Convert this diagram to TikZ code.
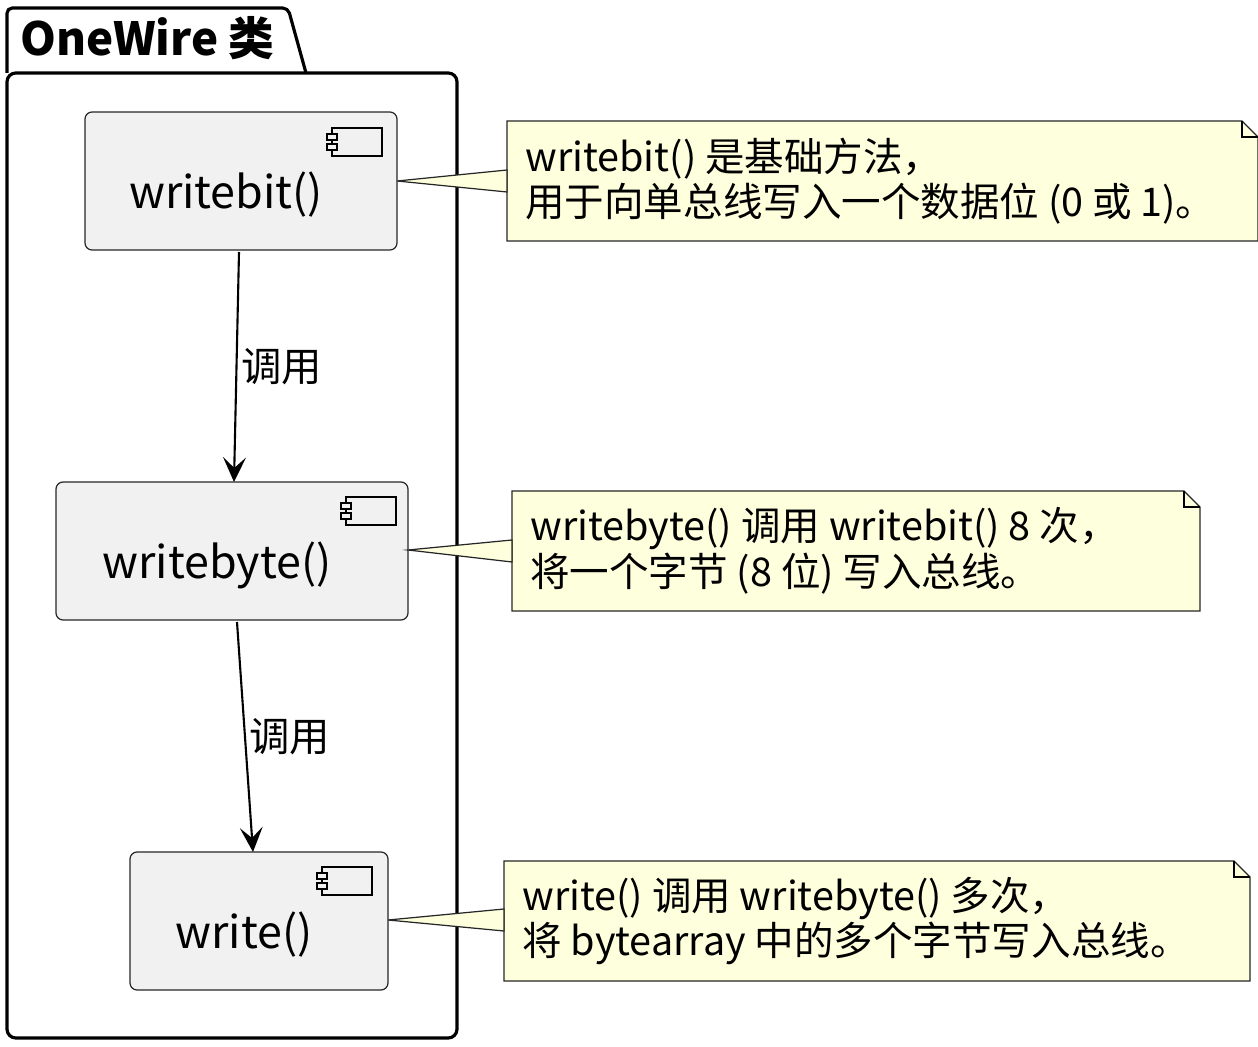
\documentclass[tikz,border=0pt]{standalone}
\usepackage{fontspec}
\setmainfont{Noto Sans CJK SC}
\usetikzlibrary{arrows.meta,calc}
\definecolor{compfill}{HTML}{F1F1F1}
\definecolor{notefill}{HTML}{FEFFDD}
\tikzset{
  comp/.style={draw=black!85,fill=compfill,rounded corners=4pt,line width=0.7pt},
  note/.style={draw=black!85,fill=notefill,line width=0.7pt},
  call/.style={line width=1.2pt,-{Stealth[length=14pt,width=13pt,inset=6pt]}},
  lbl/.style={font=\fontsize{23}{27}\selectfont,inner sep=0pt},
  ntext/.style={font=\fontsize{22.5}{26}\selectfont,align=left,anchor=west,inner sep=0pt}
}
% component box with icon: corners, name, label text
\newcommand\compbox[4]{%
  \path[comp] #1 rectangle #2;
  \node[lbl,font=\fontsize{25.5}{30}\selectfont] (#3) at ($#1!0.5!#2+(-15,14)$) {#4};
}
\newcommand\compicon[1]{%
  \draw[line width=0.6pt,fill=compfill] #1 rectangle ++(50,28);
  \draw[line width=0.6pt,fill=compfill] ($#1+(-5,6)$) rectangle ++(10,6);
  \draw[line width=0.6pt,fill=compfill] ($#1+(-5,16)$) rectangle ++(10,6);
}
% note with folded corner: x1,y1,x2,y2
\newcommand\notebox[4]{%
  \path[note] (#1,#2) -- (#3-16,#2) -- (#3,#2+16) -- (#3,#4) -- (#1,#4) -- cycle;
  \draw[line width=0.7pt] (#3-16,#2) -- (#3-16,#2+16) -- (#3,#2+16);
}
\begin{document}
\begin{tikzpicture}[x=0.02cm,y=-0.02cm]
\useasboundingbox (0,0) rectangle (1258,1047);
% package
\draw[line width=1.8pt,rounded corners=3pt] (7,73) -- (7,8) -- (288,8) -- (306,73);
\draw[line width=1.8pt,rounded corners=5pt] (7,73) rectangle (457,1038);
\node[anchor=west,inner sep=0pt,font=\fontsize{26}{30}\selectfont\bfseries] (pkg) at (20,38) {OneWire 类};
% components
\compbox{(85,112)}{(397,250)}{wbit}{writebit()}
\compicon{(332,128)}
\compbox{(56,482)}{(408,620)}{wbyte}{writebyte()}
\compicon{(346,497)}
\compbox{(130,852)}{(388,990)}{wr}{write()}
\compicon{(322,867)}
\coordinate (wbitB) at (239,252);
\coordinate (wbyteT) at (234,482);
\coordinate (wbyteB) at (237,622);
\coordinate (wrT) at (253,852);
\draw[call] (wbitB) -- node[lbl,right=2pt,pos=0.5] (c1) {调用} (wbyteT);
\draw[call] (wbyteB) -- node[lbl,right=2pt,pos=0.5] (c2) {调用} (wrT);
% notes
\notebox{507}{121}{1258}{241}
\node[ntext] (n1) at (525,181) {writebit() 是基础方法，\\用于向单总线写入一个数据位 (0 或 1)。};
\notebox{512}{491}{1200}{611}
\node[ntext] (n2) at (530,551) {writebyte() 调用 writebit() 8 次，\\将一个字节 (8 位) 写入总线。};
\notebox{504}{861}{1250}{981}
\node[ntext] (n3) at (522,921) {write() 调用 writebyte() 多次，\\将 bytearray 中的多个字节写入总线。};
% note pointers
\path[note] (397,181) -- (507,170) -- (507,192) -- cycle;
\path[note] (408,550) -- (512,540) -- (512,562) -- cycle;
\path[note] (388,920) -- (504,909) -- (504,931) -- cycle;
\end{tikzpicture}
\end{document}
